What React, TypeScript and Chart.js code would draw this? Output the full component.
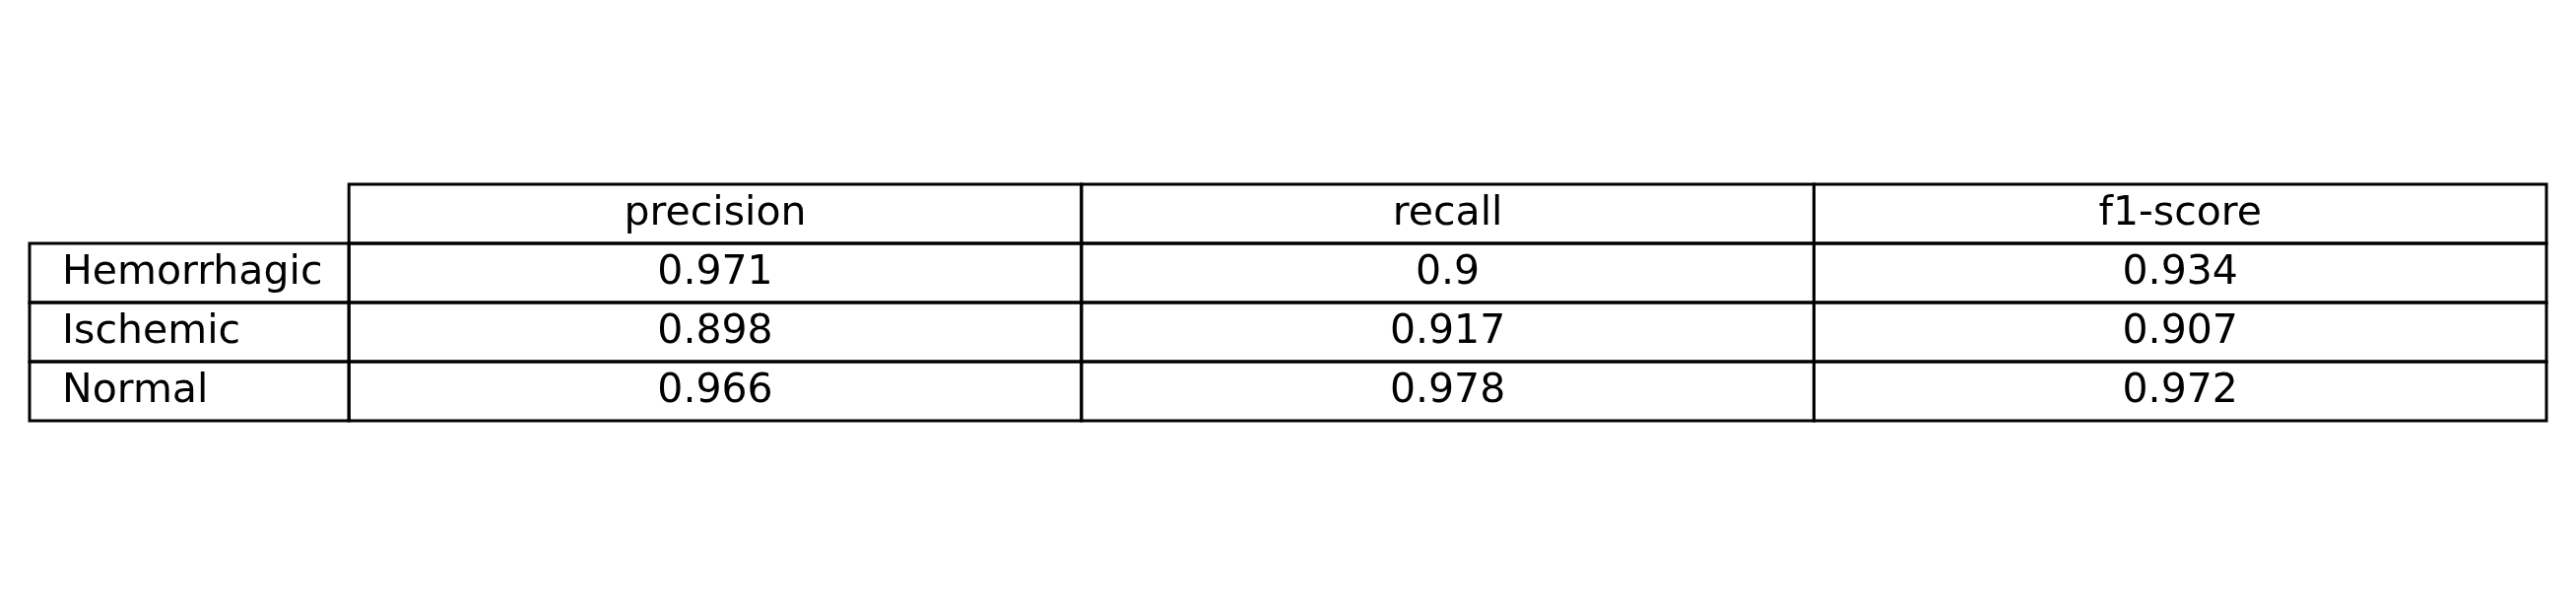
import React, { useEffect, useRef } from 'react'
import Chart from 'chart.js/auto';

const rowLabels = ['Hemorrhagic', 'Ischemic', 'Normal'];
const colLabels = ['precision', 'recall', 'f1-score'];
const precision = [0.971, 0.898, 0.966];
const recall = [0.9, 0.917, 0.978];
const f1 = [0.934, 0.907, 0.972];

const LABEL_COL = 0.436; // relative width of row-label column

const tablePlugin = {
  id: 'table',
  afterDraw(chart: any) {
    const { ctx } = chart;
    const x = chart.scales.x;
    const y = chart.scales.y;
    const cols = [0, LABEL_COL, LABEL_COL + 1, LABEL_COL + 2, LABEL_COL + 3];
    const values = [precision, recall, f1];
    ctx.save();
    ctx.strokeStyle = '#000';
    ctx.lineWidth = 3;
    ctx.fillStyle = '#000';
    ctx.font = '41px "DejaVu Sans"';
    ctx.textBaseline = 'middle';
    const rect = (c0: number, c1: number, r0: number, r1: number) => {
      const px0 = x.getPixelForValue(c0), px1 = x.getPixelForValue(c1);
      const py0 = y.getPixelForValue(r0), py1 = y.getPixelForValue(r1);
      ctx.strokeRect(px0, py0, px1 - px0, py1 - py0);
    };
    // header row (row 0), only data columns
    for (let c = 1; c < 4; c++) {
      rect(cols[c], cols[c + 1], 0, 1);
      ctx.textAlign = 'center';
      ctx.fillText(colLabels[c - 1], x.getPixelForValue((cols[c] + cols[c + 1]) / 2), y.getPixelForValue(0.5));
    }
    rowLabels.forEach((label, r) => {
      const row = r + 1;
      rect(cols[0], cols[1], row, row + 1);
      ctx.textAlign = 'left';
      ctx.fillText(label, x.getPixelForValue(0) + 33, y.getPixelForValue(row + 0.5));
      for (let c = 1; c < 4; c++) {
        rect(cols[c], cols[c + 1], row, row + 1);
        ctx.textAlign = 'center';
        ctx.fillText(String(values[c - 1][r]), x.getPixelForValue((cols[c] + cols[c + 1]) / 2), y.getPixelForValue(row + 0.5));
      }
    });
    ctx.restore();
  },
};

const App: React.FC = () => {
  const chartRef = useRef<HTMLCanvasElement | null>(null);
  const chartInstanceRef = useRef<Chart | null>(null);

  useEffect(() => {
    document.body.style.margin = '0';
    if (chartInstanceRef.current) chartInstanceRef.current.destroy();
    const ctx = chartRef.current?.getContext('2d');
    if (ctx) {
      chartInstanceRef.current = new Chart(ctx, {
        type: 'scatter',
        data: { datasets: [{ data: [] }] },
        options: {
          animation: false,
          responsive: false,
          devicePixelRatio: 1,
          layout: { padding: { left: 30, right: 30, top: 187, bottom: 187 } },
          plugins: { legend: { display: false }, tooltip: { enabled: false } },
          scales: {
            x: { type: 'linear', min: 0, max: LABEL_COL + 3, display: false },
            y: { type: 'linear', min: 0, max: 4, reverse: true, display: false },
          },
        },
        plugins: [tablePlugin],
      });
    }
    return () => {
      if (chartInstanceRef.current) chartInstanceRef.current.destroy();
    };
  }, []);

  return (
    <div style={{ width: '2615px', height: '614px', background: '#fff' }}>
      <canvas ref={chartRef} width={2615} height={614}></canvas>
    </div>
  );
};

export default App;
